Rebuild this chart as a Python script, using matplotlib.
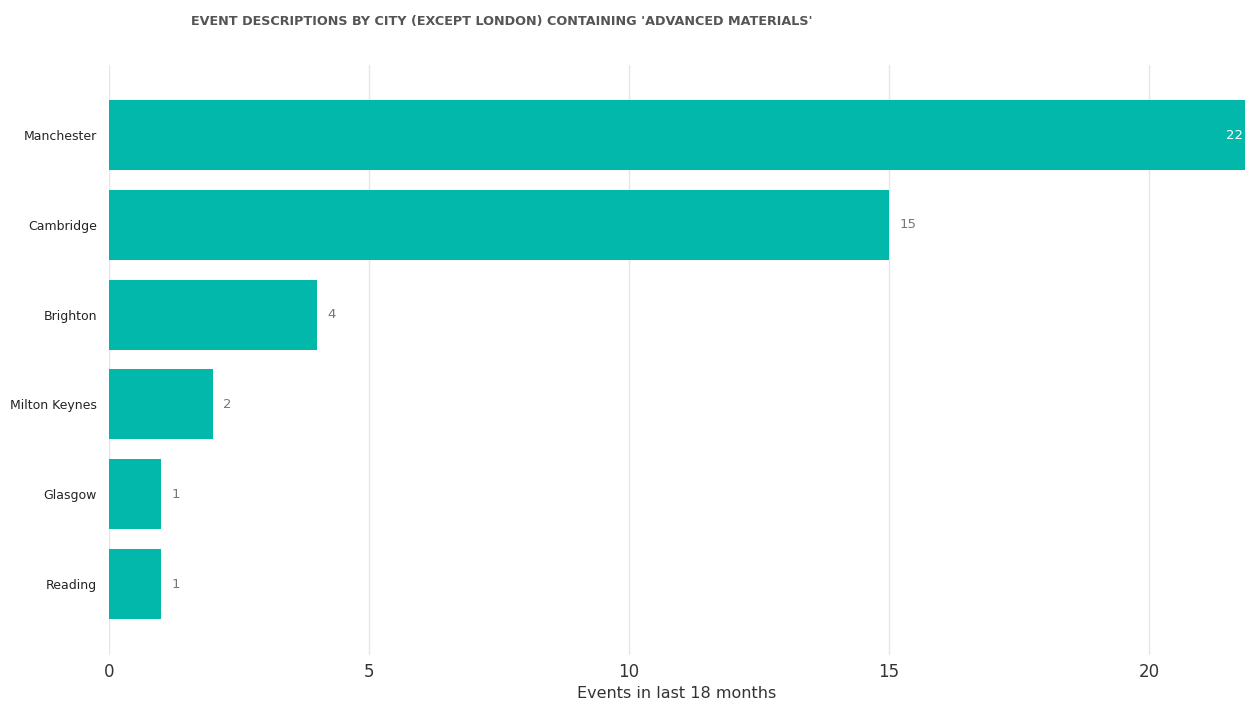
import matplotlib.pyplot as plt

# === DATA ===
cities = ["Manchester", "Cambridge", "Brighton", "Milton Keynes", "Glasgow", "Reading"]
events = [22, 15, 4, 2, 1, 1]
xticks = [0, 5, 10, 15, 20]

bar_color = '#01B8AA'

fig = plt.figure(figsize=(12.45, 7.06), dpi=100)
ax = fig.add_axes([109/1245, 1 - 655/706, 1 - 109/1245, (655 - 65)/706])

ypos = list(range(len(cities)))
ax.barh(ypos, events, height=0.78, color=bar_color, zorder=3)

ax.set_ylim(5.79, -0.78)
ax.set_xlim(0, 21.85)
ax.set_xticks(xticks)
ax.set_yticks(ypos)
ax.set_yticklabels(cities, fontsize=9, color='#252423')
ax.tick_params(axis='x', labelsize=12, colors='#333333', length=0, pad=6)
ax.tick_params(axis='y', length=0, pad=8.6)
ax.grid(axis='x', color='#E6E6E6', linewidth=1, zorder=0)
for s in ax.spines.values():
    s.set_visible(False)

ax.set_xlabel("Events in last 18 months", fontsize=11.5, color='#333333', labelpad=3)

# value labels
xmax = ax.get_xlim()[1]
for y, v in zip(ypos, events):
    if v > xmax - 1:
        ax.text(xmax - 0.03, y, str(v), ha='right', va='center', fontsize=9.5, color='white', zorder=4)
    else:
        ax.text(v + 0.2, y, str(v), ha='left', va='center', fontsize=9.5, color='#777777', zorder=4)

fig.text(191/1245, 1 - 21/706, "EVENT DESCRIPTIONS BY CITY (EXCEPT LONDON) CONTAINING 'ADVANCED MATERIALS'",
         fontsize=9.2, fontweight='bold', color='#555555', va='center', ha='left')

fig.savefig('out.png', dpi=100)
